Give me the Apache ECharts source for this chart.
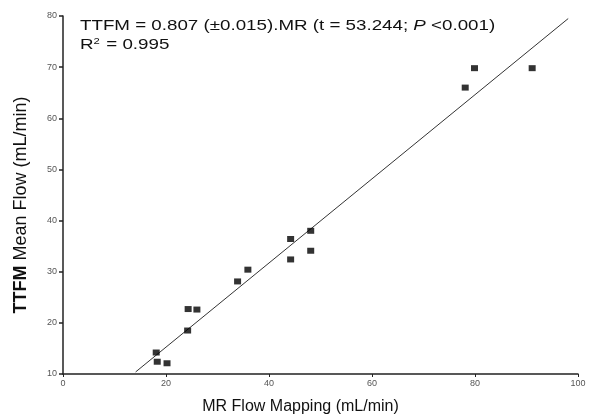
<!DOCTYPE html>
<html>
<head>
<meta charset="utf-8">
<script src="https://cdn.jsdelivr.net/npm/echarts@6/dist/echarts.min.js"></script>
<style>
	html, body { margin: 0; padding: 0; background: #fff; }
	#chart { width: 589px; height: 420px; }
</style>
</head>
<body>
<div id="chart"></div>
<script>
// MR flow mapping (x) vs TTFM mean flow (y), mL/min
var mrFlow   = [18.1, 18.3, 20.2, 24.2, 24.3, 26.0, 33.9, 35.9, 44.2, 44.2, 48.1, 48.1, 78.1, 79.9, 91.1]
var ttfmFlow = [14.2, 12.4, 12.1, 18.5, 22.7, 22.6, 28.1, 30.4, 36.4, 32.4, 38.0, 34.1, 66.0, 69.8, 69.8]
// regression line ends, as drawn
var fitX = [14.1, 98.1]
var fitY = [10.4, 79.5]
var xTicks = [0, 20, 40, 60, 80, 100]
var yTicks = [10, 20, 30, 40, 50, 60, 70, 80]

var font = 'Liberation Sans, Arial, sans-serif'
var chart = echarts.init(document.getElementById('chart'))

var points = mrFlow.map(function (x, i) { return [x, ttfmFlow[i]] })
var fitLine = fitX.map(function (x, i) { return [x, fitY[i]] })

var option = {
	animation: false,
	textStyle: { fontFamily: font },
	grid: { left: 63, right: 11, top: 16, bottom: 42 },
	xAxis: {
		type: 'value',
		min: xTicks[0],
		max: xTicks[xTicks.length - 1],
		interval: 20,
		name: 'MR Flow Mapping (mL/min)',
		nameLocation: 'middle',
		nameGap: 25,
		nameTextStyle: { fontSize: 16, color: '#111', padding: [0, 40, 0, 0] },
		axisLine: { lineStyle: { color: '#222', width: 1.5 } },
		axisTick: { show: true, length: 3, lineStyle: { color: '#222' } },
		axisLabel: { fontSize: 9, color: '#555', margin: 5 },
		splitLine: { show: false }
	},
	yAxis: {
		type: 'value',
		min: yTicks[0],
		max: yTicks[yTicks.length - 1],
		interval: 10,
		name: '{b|TTFM} Mean Flow (mL/min)',
		nameLocation: 'middle',
		nameGap: 33,
		nameTextStyle: {
			fontSize: 18,
			color: '#111',
			padding: [0, 20, 0, 0],
			rich: { b: { fontSize: 18, fontWeight: 'bold', color: '#111' } }
		},
		axisLine: { show: true, lineStyle: { color: '#222', width: 1.5 } },
		axisTick: { show: true, length: 4, lineStyle: { color: '#222', width: 1.5 } },
		axisLabel: { fontSize: 9, color: '#555', margin: 6 },
		splitLine: { show: false }
	},
	graphic: [
		{
			type: 'text',
			x: 80,
			y: 18,
			scaleX: 1.25,
			style: {
				text: 'TTFM = 0.807 (\u00b10.015).MR (t = 53.244; {i|P} <0.001)',
				font: '15px ' + font,
				fill: '#111',
				rich: { i: { fontStyle: 'italic', fontSize: 15, fontFamily: font, fill: '#111' } }
			}
		},
		{
			type: 'text',
			x: 80,
			y: 37,
			scaleX: 1.25,
			style: {
				text: 'R{s|2} = 0.995',
				font: '15px ' + font,
				fill: '#111',
				rich: { s: { fontSize: 9, fontFamily: font, fill: '#111', verticalAlign: 'top', padding: [0, 1, 6, 0] } }
			}
		}
	],
	series: [
		{
			type: 'line',
			data: fitLine,
			symbol: 'none',
			lineStyle: { color: '#333', width: 1 },
			z: 1
		},
		{
			type: 'scatter',
			data: points,
			symbol: 'rect',
			symbolSize: [7, 6],
			itemStyle: { color: '#000' },
			z: 2
		}
	]
}

chart.setOption(option)
</script>
</body>
</html>
